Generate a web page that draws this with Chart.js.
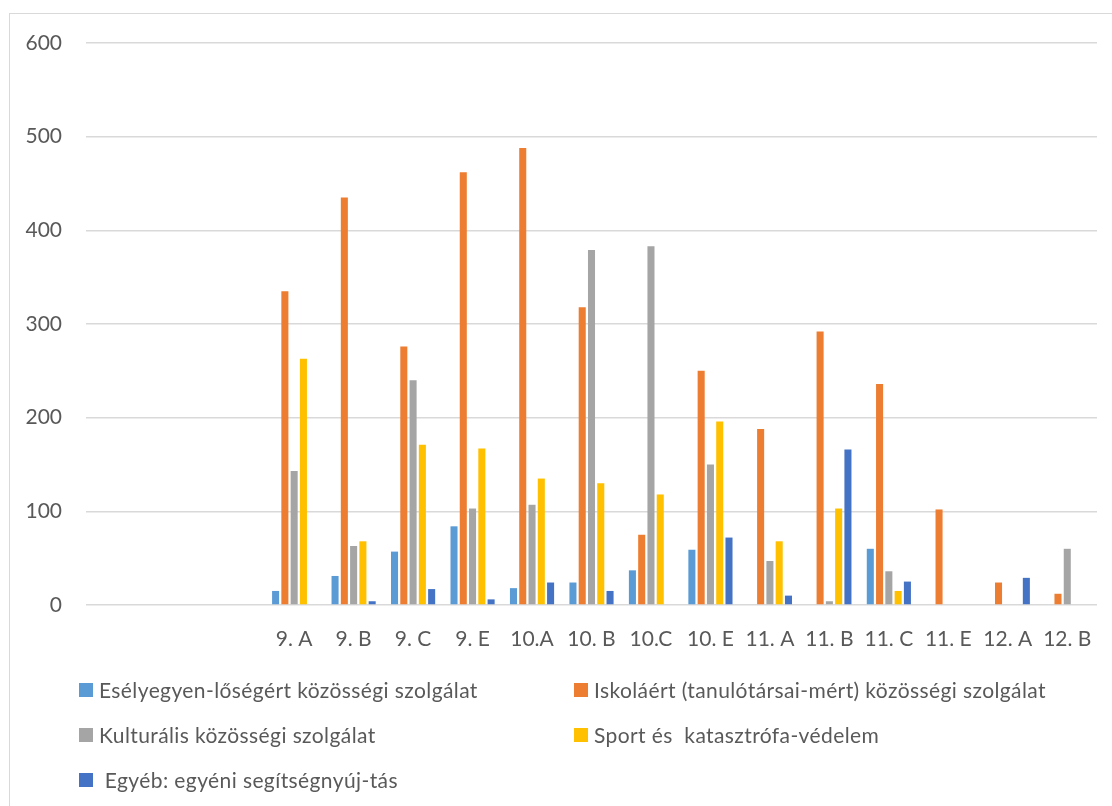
<!DOCTYPE html>
<html>
<head>
<meta charset="utf-8">
<script src="https://cdn.jsdelivr.net/npm/chart.js@4"></script>
<style>
  html, body { margin: 0; padding: 0; background: #fff; overflow: hidden; }
  #frame { position: absolute; left: 9px; top: 13px; width: 1200px; height: 900px; border: 1.5px solid #d9d9d9; }
  #wrap { position: absolute; left: 0; top: 0; width: 1112px; height: 660px; }
  #legend { position: absolute; left: 0; top: 0; width: 1112px; height: 806px; pointer-events: none;
            font-family: Lato, "Open Sans", sans-serif; font-size: 21px; letter-spacing: 0.4px; color: #595959; }
  .item { position: absolute; display: flex; align-items: center; white-space: pre; line-height: 24px; }
  .box { width: 14px; height: 14px; margin-right: 6px; }
</style>
</head>
<body>
<div id="frame"></div>
<div id="wrap"><canvas id="chart"></canvas></div>
<div id="legend"></div>
<script>
  // classes (first three slots are empty in the original)
  const classes = ['', '', '', '9. A', '9. B', '9. C', '9. E', '10.A', '10. B', '10.C', '10. E',
                   '11. A', '11. B', '11. C', '11. E', '12. A', '12. B'];

  const eselyegyenloseg = [null, null, null, 15, 31, 57, 84, 18, 24, 37, 59, null, null, 60, null, null, null];
  const iskolaert       = [null, null, null, 335, 435, 276, 462, 488, 318, 75, 250, 188, 292, 236, 102, 24, 12];
  const kulturalis      = [null, null, null, 143, 63, 240, 103, 107, 379, 383, 150, 47, 4, 36, null, null, 60];
  const sport           = [null, null, null, 263, 68, 171, 167, 135, 130, 118, 196, 68, 103, 15, null, null, null];
  const egyeb           = [null, null, null, null, 4, 17, 6, 24, 15, null, 72, 10, 166, 25, null, 29, null];

  const yTicks = [0, 100, 200, 300, 400, 500, 600];

  const seriesNames = [
    'Esélyegyen-lőségért közösségi szolgálat',
    'Iskoláért (tanulótársai-mért) közösségi szolgálat',
    'Kulturális közösségi szolgálat',
    'Sport és  katasztrófa-védelem',
    ' Egyéb: egyéni segítségnyúj-tás'
  ];
  const seriesColors = ['#5B9BD5', '#ED7D31', '#A5A5A5', '#FFC000', '#4472C4'];
  const seriesData = [eselyegyenloseg, iskolaert, kulturalis, sport, egyeb];

  const tickFont = { family: 'Lato', size: 21 };

  const chart = new Chart(document.getElementById('chart'), {
    type: 'bar',
    data: {
      labels: classes,
      datasets: seriesNames.map((name, i) => ({
        label: name,
        data: seriesData[i],
        backgroundColor: seriesColors[i],
        categoryPercentage: 0.78,
        barPercentage: 0.76
      }))
    },
    options: {
      responsive: true,
      maintainAspectRatio: false,
      animation: false,
      layout: { padding: { left: 10, right: 15, top: 43, bottom: 0 } },
      plugins: { legend: { display: false }, tooltip: { enabled: false } },
      scales: {
        x: {
          grid: { display: false },
          border: { display: false },
          ticks: { color: '#595959', font: tickFont, padding: 14, maxRotation: 0, autoSkip: false },
          afterFit: s => { s.height = 55; }
        },
        y: {
          min: 0, max: 600,
          afterBuildTicks: s => { s.ticks = yTicks.map(v => ({ value: v })); },
          grid: { color: '#d9d9d9', lineWidth: 1.5, drawTicks: false },
          border: { display: false },
          ticks: { color: '#595959', font: tickFont, padding: 24 },
          afterFit: s => { s.width = 76; }
        }
      }
    }
  });

  // legend in two columns, like the original
  const legendPos = [[79, 690], [574, 690], [79, 735], [574, 735], [79, 780]];
  const legendBox = document.getElementById('legend');
  chart.data.datasets.forEach((ds, i) => {
    const item = document.createElement('div');
    item.className = 'item';
    item.style.left = legendPos[i][0] + 'px';
    item.style.top = (legendPos[i][1] - 12) + 'px';
    const box = document.createElement('span');
    box.className = 'box';
    box.style.background = ds.backgroundColor;
    const txt = document.createElement('span');
    txt.textContent = ds.label;
    item.appendChild(box);
    item.appendChild(txt);
    legendBox.appendChild(item);
  });
</script>
</body>
</html>
